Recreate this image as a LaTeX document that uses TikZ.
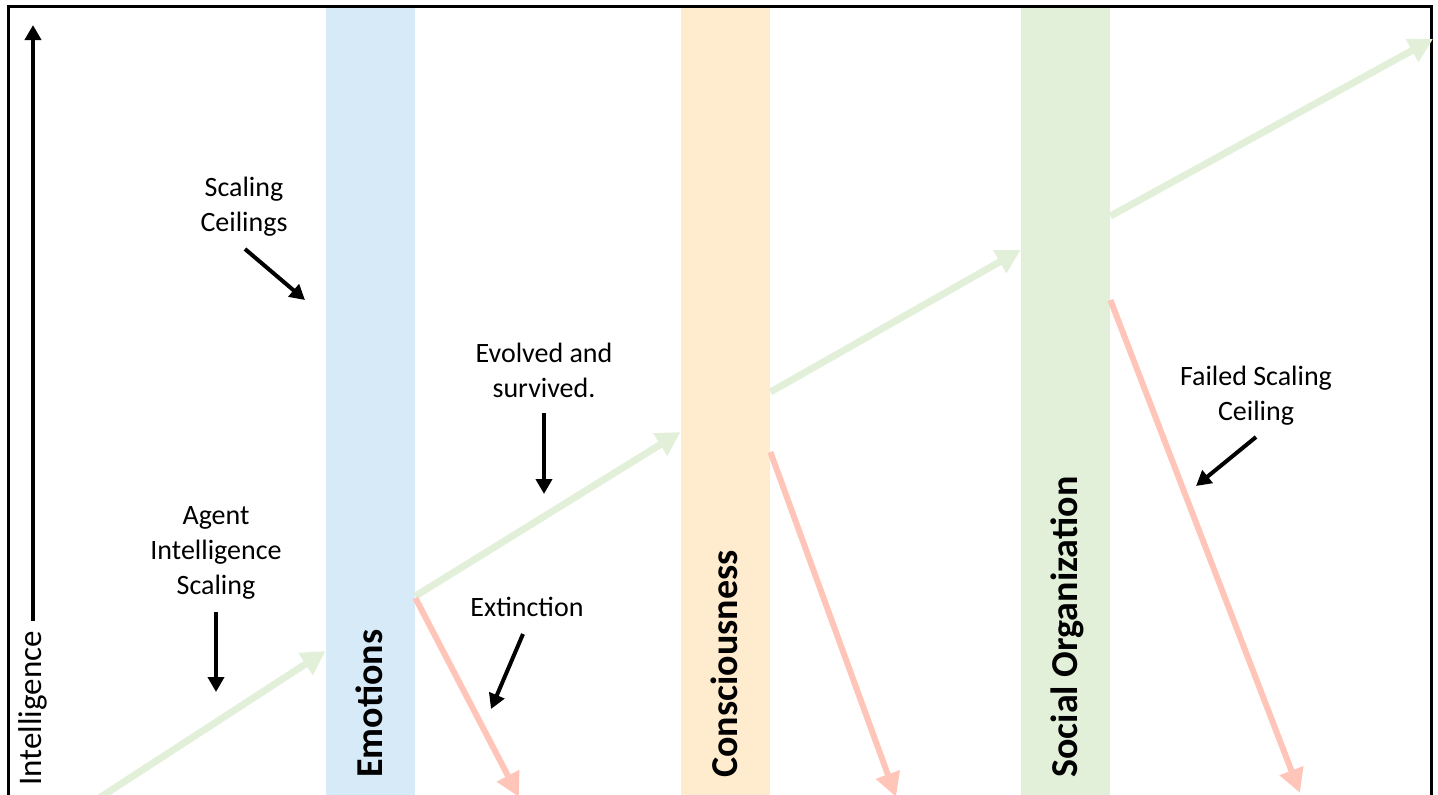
\documentclass[tikz,border=0pt]{standalone}
\usepackage{fontspec}
\setmainfont{Carlito}
\usetikzlibrary{arrows.meta,positioning}
\definecolor{barblue}{HTML}{D6EAF8}
\definecolor{barorange}{HTML}{FFEBCD}
\definecolor{bargreen}{HTML}{E2F0D9}
\definecolor{failred}{HTML}{FFC5B8}
\tikzset{
  band/.style={draw=none,minimum width=44.5pt,minimum height=400pt,inner sep=0pt,anchor=north},
  bandlabel/.style={rotate=90,anchor=base west,inner sep=0pt,font=\fontsize{19}{23}\selectfont\bfseries},
  note/.style={align=center,inner sep=0pt,font=\fontsize{14}{17.5}\selectfont},
  pointer/.style={line width=2pt,-{Triangle[length=7.5pt,width=8pt]}},
  survive/.style={color=bargreen,line width=3.5pt,-{Triangle[length=12pt,width=12.5pt]}},
  perish/.style={color=failred,line width=3pt,-{Triangle[length=12pt,width=12pt]}}
}

\begin{document}
\begin{tikzpicture}[x=0.5pt,y=-0.5pt]
  \useasboundingbox (0,0) rectangle (1438,794);
  \clip (0,0) rectangle (1438,794);

  % bands
  \node[band,fill=barblue] (emo) at (370.5,6) {};
  \node[band,fill=barorange] (cons) at (725.5,6) {};
  \node[band,fill=bargreen] (soc) at (1065.5,6) {};
  \node[bandlabel] (emolabel) at (382.5,778) {Emotions};
  \node[bandlabel] (conslabel) at (737.5,778) {Consciousness};
  \node[bandlabel] (soclabel) at (1077.5,778) {Social Organization};

  % frame
  \draw[line width=1.5pt] (8.5,6) rectangle (1431.5,830);

  % axis
  \coordinate (axisfoot) at (33,621);
  \coordinate (axistop) at (33,25);
  \draw[pointer] (axisfoot) -- (axistop);
  \node[note,rotate=90,anchor=base west,font=\fontsize{16.5}{20}\selectfont] (axislabel) at (41,786) {Intelligence};

  % growth path
  \coordinate (origin) at (93,802);
  \draw[survive] (origin) -- (emo.west |- 0,651);
  \draw[survive] (emo.east |- 0,596) -- (cons.west |- 0,432);
  \draw[survive] (cons.east |- 0,392) -- (soc.west |- 0,250);
  \coordinate (summit) at (1433,39);
  \draw[survive] (soc.east |- 0,216) -- (summit);

  % failures
  \coordinate (fall1) at (519,797);
  \coordinate (fall2) at (896,797);
  \coordinate (fall3) at (1300,793);
  \draw[perish] (emo.east |- 0,598) -- (fall1);
  \draw[perish] (cons.east |- 0,452) -- (fall2);
  \draw[perish] (soc.east |- 0,300) -- (fall3);

  % notes
  \node[note] (ceilings) at (244,207) {Scaling\\Ceilings};
  \coordinate (ceilingsfrom) at (245,249);
  \coordinate (ceilingsto) at (305,300);
  \draw[pointer] (ceilingsfrom) -- (ceilingsto);

  \node[note] (agent) at (216,553) {Agent\\Intelligence\\Scaling};
  \coordinate (agentfrom) at (216,612);
  \coordinate (agentto) at (216,692);
  \draw[pointer] (agentfrom) -- (agentto);

  \node[note] (evolved) at (544,370) {Evolved and\\survived.};
  \coordinate (evolvedfrom) at (544,413);
  \coordinate (evolvedto) at (544,494);
  \draw[pointer] (evolvedfrom) -- (evolvedto);

  \node[note] (extinct) at (527,607) {Extinction};
  \coordinate (extinctfrom) at (523,634);
  \coordinate (extinctto) at (491,709);
  \draw[pointer] (extinctfrom) -- (extinctto);

  \node[note] (failed) at (1256,396) {Failed Scaling\\Ceiling};
  \coordinate (failedfrom) at (1256,437);
  \coordinate (failedto) at (1196,486);
  \draw[pointer] (failedfrom) -- (failedto);
\end{tikzpicture}
\end{document}
